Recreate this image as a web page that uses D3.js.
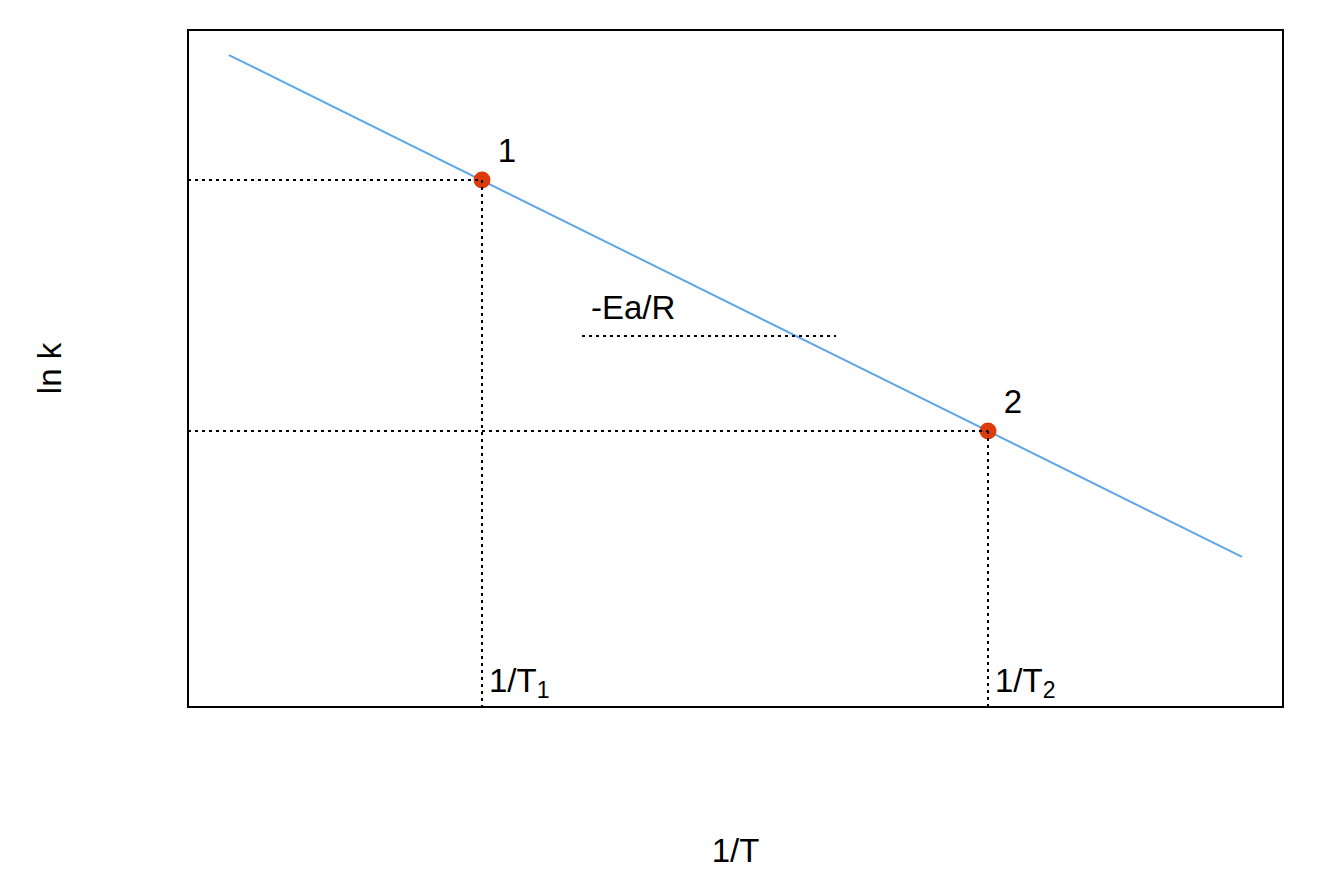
<!DOCTYPE html>
<html>
<head>
<meta charset="utf-8">
<script src="https://cdn.jsdelivr.net/npm/d3@7"></script>
<style>
  body { margin: 0; background: #fff; }
  text { font-family: "Liberation Sans", Arial, sans-serif; fill: #000; }
</style>
</head>
<body>
<svg id="chart" width="1337" height="885"></svg>
<script>
// data, in arbitrary plot units (0..100 on both axes)
const lineX = [3.74, 96.26];
const lineY = [96.3, 22.16];
const pointX = [26.85, 73.06];
const pointY = [77.84, 40.77];
const pointLabels = ["1", "2"];
const tickLabels = ["T1", "T2"];
const slopeX = [35.98, 59.18];
const slopeY = 54.8;
const slopeLabel = "-Ea/R";

const svg = d3.select("#chart");
const plotLeft = 188, plotRight = 1283, plotTop = 30, plotBottom = 707;
const fs = 33;

const x = d3.scaleLinear().domain([0, 100]).range([plotLeft, plotRight]);
const y = d3.scaleLinear().domain([0, 100]).range([plotBottom, plotTop]);

const dash = "3,4";
const g = svg.append("g");

// fitted line
g.append("line")
    .attr("x1", x(lineX[0])).attr("y1", y(lineY[0]))
    .attr("x2", x(lineX[1])).attr("y2", y(lineY[1]))
    .attr("stroke", "#5fa6e6")
    .attr("stroke-width", 2);

// points
g.selectAll(".pt").data(pointX).enter().append("circle")
    .attr("class", "pt")
    .attr("cx", d => x(d))
    .attr("cy", (d, i) => y(pointY[i]))
    .attr("r", 8.5)
    .attr("fill", "#dd3b0c");

// dotted guides
pointX.forEach((px, i) => {
    g.append("line")
        .attr("x1", x(0)).attr("x2", x(px))
        .attr("y1", y(pointY[i])).attr("y2", y(pointY[i]))
        .attr("stroke", "#000").attr("stroke-width", 2)
        .attr("stroke-dasharray", dash);
    g.append("line")
        .attr("x1", x(px)).attr("x2", x(px))
        .attr("y1", y(pointY[i])).attr("y2", y(0))
        .attr("stroke", "#000").attr("stroke-width", 2)
        .attr("stroke-dasharray", dash);
});

// slope marker
g.append("line")
    .attr("x1", x(slopeX[0])).attr("x2", x(slopeX[1]))
    .attr("y1", y(slopeY)).attr("y2", y(slopeY))
    .attr("stroke", "#000").attr("stroke-width", 2)
    .attr("stroke-dasharray", dash);
g.append("text")
    .attr("x", x(slopeX[0]) + 9)
    .attr("y", y(slopeY) - 17)
    .attr("font-size", fs)
    .text(slopeLabel);

// point labels
g.selectAll(".plab").data(pointLabels).enter().append("text")
    .attr("class", "plab")
    .attr("x", (d, i) => x(pointX[i]) + 25)
    .attr("y", (d, i) => y(pointY[i]) - 18)
    .attr("text-anchor", "middle")
    .attr("font-size", fs)
    .text(d => d);

// 1/T labels with subscripts
tickLabels.forEach((t, i) => {
    const tx = g.append("text")
        .attr("x", x(pointX[i]) + 7)
        .attr("y", y(0) - 15)
        .attr("font-size", fs);
    tx.append("tspan").text("1/" + t[0]);
    tx.append("tspan").attr("font-size", 23).attr("dy", 6).text(t.slice(1));
});

// frame
svg.append("rect")
    .attr("x", plotLeft).attr("y", plotTop)
    .attr("width", plotRight - plotLeft).attr("height", plotBottom - plotTop)
    .attr("fill", "none").attr("stroke", "#000").attr("stroke-width", 2);

// axis titles
svg.append("text")
    .attr("transform", "translate(61," + ((plotTop + plotBottom) / 2) + ") rotate(-90)")
    .attr("text-anchor", "middle")
    .attr("font-size", fs)
    .text("ln k");
svg.append("text")
    .attr("x", (plotLeft + plotRight) / 2)
    .attr("y", 862)
    .attr("text-anchor", "middle")
    .attr("font-size", fs)
    .text("1/T");
</script>
</body>
</html>
